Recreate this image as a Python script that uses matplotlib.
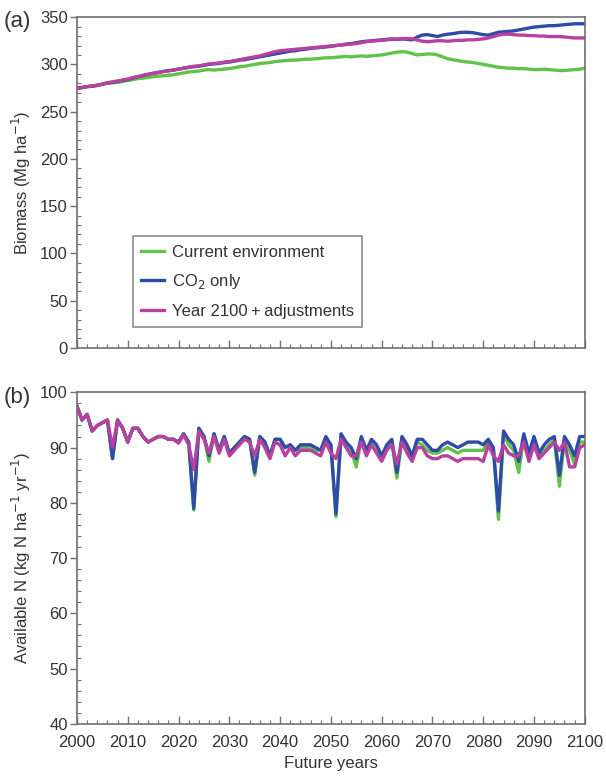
import matplotlib
matplotlib.use("Agg")
import matplotlib.pyplot as plt
from matplotlib.ticker import MultipleLocator
import numpy as np

plt.rcParams['font.family'] = ['Liberation Sans', 'DejaVu Sans']

years = list(range(2000, 2101))

# Panel (a): biomass (Mg ha-1)
bio_current = [
    275, 275.5, 276.5, 277, 277.5, 279, 280, 280.5, 281, 282,
    283, 284, 285, 285.5, 286, 287, 287.5, 288, 288.5, 289,
    290, 291, 292, 292.5, 293, 294, 294.5, 294, 294.5, 295,
    295.5, 296.5, 297.5, 298, 299, 300, 301, 301.5, 302, 303,
    303.5, 304, 304.5, 304.5, 305, 305.5, 305.5, 306, 306.5, 307,
    307, 307.5, 308, 308.5, 308, 308.5, 309, 308.5, 309, 309.5,
    310, 311, 312, 313, 313.5, 313, 311.5, 310, 310.5, 311,
    311, 310, 308, 306, 305, 304, 303, 302.5, 302, 301,
    300, 299, 298, 297, 296.5, 296, 296, 295.5, 295.5, 295,
    294.5, 294.5, 295, 294.5, 294, 293.5, 293.5, 294, 294.5, 295,
    296]
bio_co2 = [
    275, 275.5, 276.5, 277, 278, 279, 280.5, 281, 282, 283,
    284, 285.5, 287, 288, 289.5, 290.5, 291.5, 292.5, 293.5, 294,
    295, 296, 297, 297.5, 298, 299, 300, 300.5, 301, 302,
    302.5, 303.5, 304.5, 305, 306, 307, 308, 309, 310, 311,
    312, 313, 314, 314.5, 315.5, 316, 317, 317.5, 318, 318.5,
    319, 320, 320.5, 321.5, 322, 323, 324, 324.5, 325, 325.5,
    326, 326.5, 327, 326.5, 327, 326.5, 326, 329, 331, 331.5,
    330.5, 329.5, 331, 332, 332.5, 333.5, 334, 334, 333.5, 332.5,
    331.5, 331, 332.5, 334, 334.5, 335, 335.5, 336.5, 337.5, 338.5,
    339.5, 340, 340.5, 341, 341, 341.5, 342, 342.5, 343, 343,
    343]
bio_2100 = [
    275, 275.5, 276.5, 277, 278, 279, 280.5, 281.5, 282.5, 283.5,
    284.5, 286, 287, 288.5, 289.5, 290.5, 291.5, 292.5, 293, 294,
    295, 296, 297, 298, 298.5, 299.5, 300.5, 301, 301.5, 302.5,
    303, 304, 305, 306, 307, 308, 309, 310.5, 312, 313.5,
    314.5, 315, 315.5, 316, 316.5, 317, 317.5, 318, 318.5, 319,
    319.5, 320, 320.5, 321, 321.5, 322, 323, 324, 324.5, 325,
    325.5, 326, 326.5, 327, 327, 327.5, 327, 326, 324.5, 324,
    324.5, 325, 325, 324.5, 325, 325.5, 325.5, 326, 326, 326.5,
    327, 328, 329.5, 331, 332, 332, 331.5, 331, 331, 330.5,
    330.5, 330, 330, 329.5, 329.5, 329.5, 329, 328.5, 328, 328,
    328]

# Panel (b): available N (kg N ha-1 yr-1)
n_co2 = [
    97.5, 95, 96, 93, 94, 94.5, 95, 88, 95, 93.5,
    91, 93.5, 93.5, 92, 91, 91.5, 92, 92, 91.5, 91.5,
    91, 92.5, 91, 79, 93.5, 92, 88.5, 92.5, 89.5, 92,
    89, 90, 91, 92, 91.5, 85.5, 92, 91, 88.5, 91.5,
    91.5, 90, 90.5, 89.5, 90.5, 90.5, 90.5, 90, 89.5, 92,
    90.5, 78, 92.5, 91, 90, 88, 92, 89.5, 91.5, 90.5,
    88.5, 90.5, 91.5, 85.5, 92, 90.5, 88.5, 91.5, 91.5, 90.5,
    89.5, 89.5, 90.5, 91, 90.5, 90, 90.5, 91, 91, 91,
    90.5, 91.5, 90, 78.5, 93, 91.5, 90.5, 87.5, 92.5, 89,
    92, 89, 90.5, 91.5, 92, 85, 92, 90.5, 88.5, 92,
    92]
n_current = [
    97.5, 95, 96, 93, 94, 94.5, 95, 88, 95, 93.5,
    91, 93.5, 93.5, 92, 91, 91.5, 92, 92, 91.5, 91.5,
    91, 92.5, 91, 78.7, 93.5, 92, 87.5, 92.5, 89.5, 92,
    89, 90, 91, 92, 91.5, 85, 92, 91, 88.5, 91.5,
    91.5, 90, 90.5, 89.5, 90, 90, 90, 89.5, 89.5, 91.5,
    90.5, 77.5, 92, 90.5, 89.5, 86.5, 91.5, 89, 91, 90,
    88, 90, 91, 84.5, 91.5, 90, 88, 91, 90.5, 89.5,
    89, 89, 89.5, 90, 89.5, 89, 89.5, 89.5, 89.5, 89.5,
    89.5, 91, 89.5, 77, 92.5, 90.5, 89.5, 85.5, 92, 88,
    91.5, 88, 89.5, 90.5, 91.5, 83, 91.5, 89.5, 87, 91,
    91]
n_2100 = [
    97.5, 95, 96, 93, 94, 94.5, 95, 90, 95, 93.5,
    91, 93.5, 93.5, 92, 91, 91.5, 92, 92, 91.5, 91.5,
    90.8, 92.3, 90.5, 86, 93, 91.5, 89, 92, 89, 91.5,
    88.5, 89.5, 90.5, 91.5, 91, 88.5, 91.5, 90, 88, 91,
    90.5, 88.5, 90, 88.5, 89.5, 89.5, 89.5, 89, 88.5, 91,
    89, 88, 91.5, 90, 88.5, 88.5, 91, 88.5, 90.5, 89,
    87.5, 89.5, 90.5, 87, 91, 89, 87.5, 90, 90, 88.5,
    88, 88, 88.5, 88.5, 88, 87.5, 88, 88, 88, 88,
    87.5, 90.5, 88.5, 87.5, 90.5, 89, 88.5, 88.5, 91, 87.5,
    90.5, 88, 89, 90, 91, 89.5, 91, 86.5, 86.5, 90,
    90.5]

labels = ["Current environment", "CO$_2$ only", "Year 2100\u2009+\u2009adjustments"]
c_green = "#62C24A"
c_blue = "#2F4BA8"
c_mag = "#B8409F"
spine_c = "#707070"
txt_c = "#333333"
fs = 12

fig = plt.figure(figsize=(6.06, 7.80), dpi=100)
ax1 = fig.add_axes([0.127, 0.554, 0.838, 0.424])
ax2 = fig.add_axes([0.127, 0.072, 0.838, 0.425])

lw = 2.4
for ax, series, ylim, ymaj, ymin in [
        (ax1, (bio_current, bio_co2, bio_2100), (0, 350), 50, 10),
        (ax2, (n_current, n_co2, n_2100), (40, 100), 10, 2)]:
    for s, c, lab in zip(series, (c_green, c_blue, c_mag), labels):
        ax.plot(years, s, color=c, lw=lw, label=lab)
    ax.set_xlim(2000, 2100)
    ax.set_ylim(*ylim)
    ax.xaxis.set_major_locator(MultipleLocator(10))
    ax.xaxis.set_minor_locator(MultipleLocator(2))
    ax.yaxis.set_major_locator(MultipleLocator(ymaj))
    ax.yaxis.set_minor_locator(MultipleLocator(ymin))
    ax.tick_params(axis='x', which='major', direction='in', length=6, width=1, color=spine_c,
                   labelsize=fs, labelcolor=txt_c, pad=8)
    ax.tick_params(axis='x', which='minor', direction='in', length=3, width=0.8, color=spine_c)
    ax.tick_params(axis='y', which='major', direction='out', length=5, width=1, color=spine_c,
                   labelsize=fs, labelcolor=txt_c, pad=1.5)
    ax.tick_params(axis='y', which='minor', direction='in', length=3, width=0.8, color=spine_c)
    for sp in ax.spines.values():
        sp.set_color(spine_c)
        sp.set_linewidth(1.2)

ax1.tick_params(axis='x', labelbottom=False)
ax1.set_ylabel("Biomass (Mg ha$^{-1}$)", fontsize=fs, color=txt_c, labelpad=5)
ax2.set_ylabel("Available N (kg N ha$^{-1}$ yr$^{-1}$)", fontsize=fs, color=txt_c, labelpad=5)
ax2.set_xlabel("Future years", fontsize=fs, color=txt_c, labelpad=4)

leg = ax1.legend(loc='lower left', bbox_to_anchor=(0.11, 0.063), fontsize=fs,
                 frameon=True, fancybox=False, handlelength=1.4, handletextpad=0.45,
                 labelspacing=0.75, borderpad=0.5, borderaxespad=0)
leg.get_frame().set_edgecolor(spine_c)
leg.get_frame().set_linewidth(1.2)
for t in leg.get_texts():
    t.set_color(txt_c)

fig.text(0.006, 0.973, "(a)", fontsize=16, color=txt_c, va='center', ha='left')
fig.text(0.006, 0.491, "(b)", fontsize=16, color=txt_c, va='center', ha='left')

fig.savefig("out.png", dpi=100)
